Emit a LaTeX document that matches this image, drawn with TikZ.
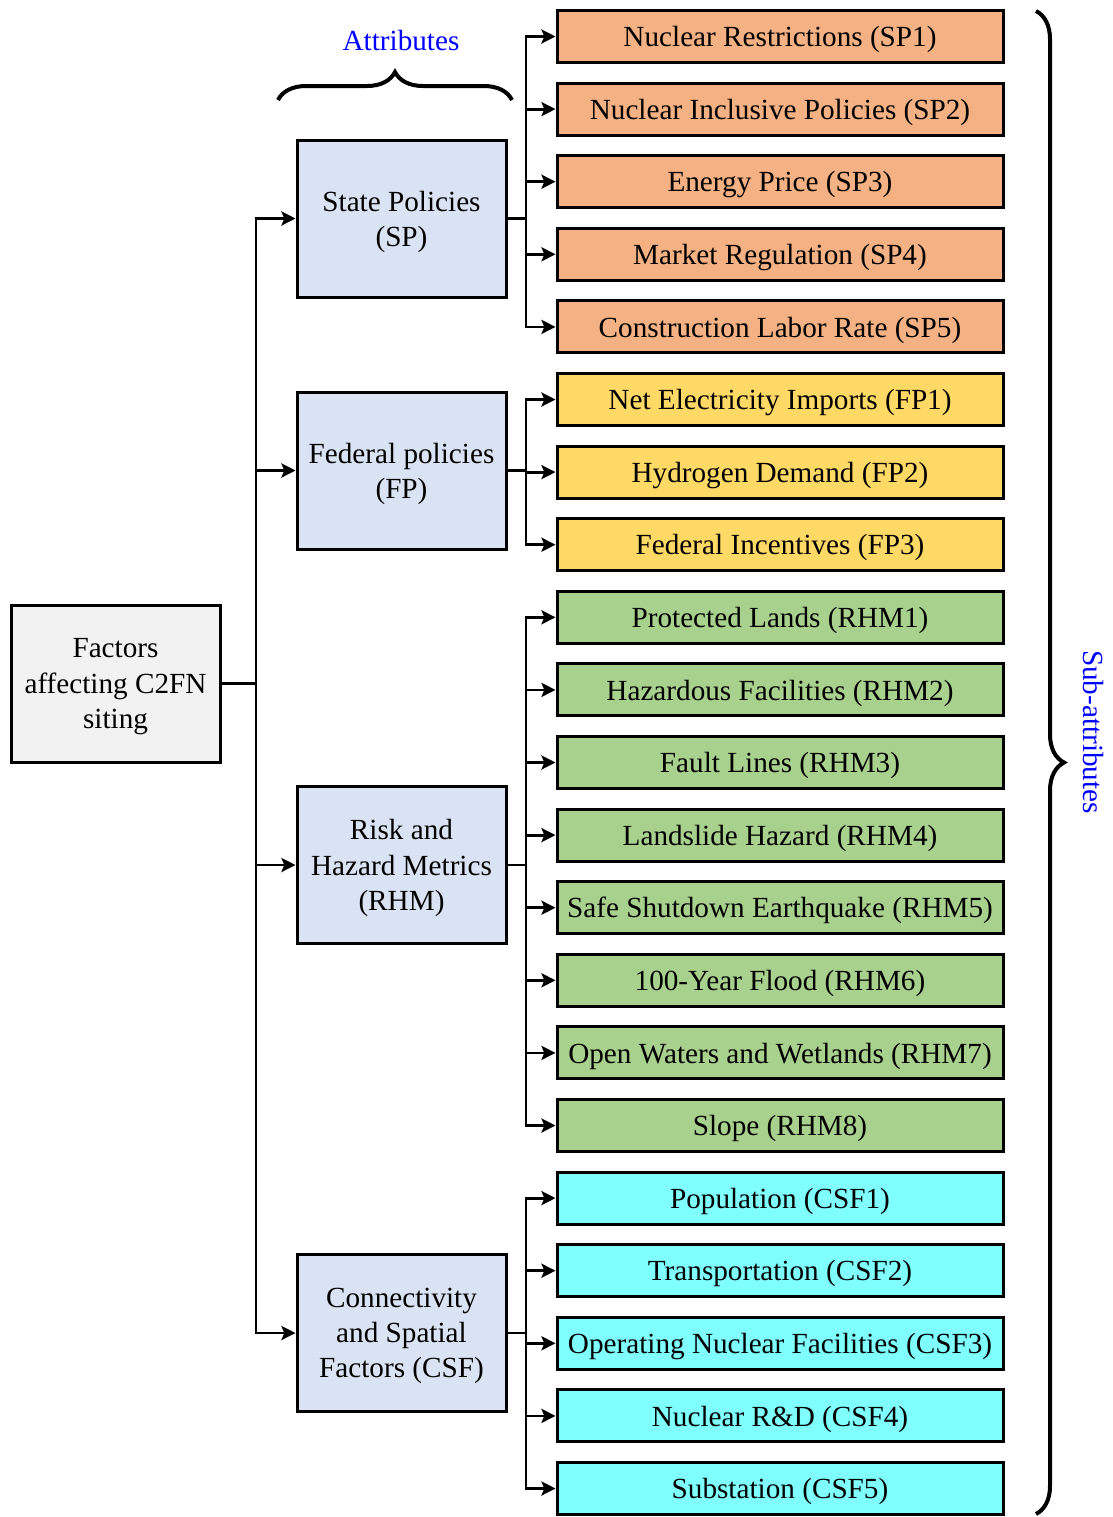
\documentclass[tikz,border=0pt]{standalone}
\usepackage{fontspec}
\setmainfont{Liberation Serif}
\usetikzlibrary{arrows.meta,decorations.pathreplacing}
\definecolor{cSP}{HTML}{F4B183}
\definecolor{cFP}{HTML}{FFD966}
\definecolor{cRHM}{HTML}{A9D18E}
\definecolor{cCSF}{HTML}{80FFFF}
\definecolor{cAttr}{HTML}{DAE3F3}
\definecolor{cRoot}{HTML}{F2F2F2}
\definecolor{cLabel}{HTML}{0000FF}
\tikzset{
  box/.style={draw=black,line width=1.5pt,inner sep=0pt,align=center,text depth=0pt,font=\fontsize{14.6}{17.6}\selectfont},
  subbox/.style={box,minimum width=223pt,minimum height=26pt},
  attrbox/.style={box,minimum width=104.5pt,minimum height=78.5pt,fill=cAttr},
  conn/.style={line width=1.4pt},
  arr/.style={conn,-{Stealth[length=7pt,width=7pt,inset=1.4pt]}},
  bracestyle/.style={line width=2pt,decorate,decoration={brace,amplitude=14pt}},
  lbl/.style={text=cLabel,font=\fontsize{14.6}{17}\selectfont}
}
\begin{document}
\begin{tikzpicture}[x=0.5pt,y=-0.5pt]
\useasboundingbox (0,0) rectangle (1113,1517);
% root
\node[box,fill=cRoot,minimum width=104.5pt,minimum height=78.5pt] (root) at (115.5,683.5) {Factors\\affecting C2FN\\siting};
% attributes
\node[attrbox] (SP) at (401.5,218.5) {State Policies\\(SP)};
\node[attrbox] (FP) at (401.5,470.5) {Federal policies\\(FP)};
\node[attrbox] (RHM) at (401.5,865) {Risk and\\Hazard Metrics\\(RHM)};
\node[attrbox] (CSF) at (401.5,1333) {Connectivity\\and Spatial\\Factors (CSF)};
% sub-attributes
\foreach \i/\t/\c [count=\k from 0] in {
 SP1/Nuclear Restrictions (SP1)/cSP,
 SP2/Nuclear Inclusive Policies (SP2)/cSP,
 SP3/Energy Price (SP3)/cSP,
 SP4/Market Regulation (SP4)/cSP,
 SP5/Construction Labor Rate (SP5)/cSP,
 FP1/Net Electricity Imports (FP1)/cFP,
 FP2/Hydrogen Demand (FP2)/cFP,
 FP3/Federal Incentives (FP3)/cFP,
 RHM1/Protected Lands (RHM1)/cRHM,
 RHM2/Hazardous Facilities (RHM2)/cRHM,
 RHM3/Fault Lines (RHM3)/cRHM,
 RHM4/Landslide Hazard (RHM4)/cRHM,
 RHM5/Safe Shutdown Earthquake (RHM5)/cRHM,
 RHM6/100-Year Flood (RHM6)/cRHM,
 RHM7/Open Waters and Wetlands (RHM7)/cRHM,
 RHM8/Slope (RHM8)/cRHM,
 CSF1/Population (CSF1)/cCSF,
 CSF2/Transportation (CSF2)/cCSF,
 CSF3/Operating Nuclear Facilities (CSF3)/cCSF,
 CSF4/Nuclear R\&D (CSF4)/cCSF,
 CSF5/Substation (CSF5)/cCSF}
 {\node[subbox,fill=\c] (\i) at (780,36.5+72.6*\k) {\t};}
% root connections
\coordinate (rj) at (256,683.5);
\draw[conn] (root.east) -- (rj);
\foreach \a in {SP,FP,RHM,CSF} {\draw[arr] (rj) |- (\a.west);}
% attribute junctions
\coordinate (spj) at (526,218.5);
\coordinate (fpj) at (526,470.5);
\coordinate (rhmj) at (526,865);
\coordinate (csfj) at (526,1333);
\draw[conn] (SP.east) -- (spj);
\draw[conn] (FP.east) -- (fpj);
\draw[conn] (RHM.east) -- (rhmj);
\draw[conn] (CSF.east) -- (csfj);
\foreach \s in {SP1,SP2,SP3,SP4,SP5} {\draw[arr] (spj) |- (\s.west);}
\foreach \s in {FP1,FP2,FP3} {\draw[arr] (fpj) |- (\s.west);}
\foreach \s in {RHM1,RHM2,RHM3,RHM4,RHM5,RHM6,RHM7,RHM8} {\draw[arr] (rhmj) |- (\s.west);}
\foreach \s in {CSF1,CSF2,CSF3,CSF4,CSF5} {\draw[arr] (csfj) |- (\s.west);}
% braces
\coordinate (tb1) at (278,100);
\coordinate (tb2) at (512,100);
\draw[bracestyle] (tb1) -- (tb2);
\node[lbl] (attrlbl) at (401,41) {Attributes};
\coordinate (rb1) at (1036,11);
\coordinate (rb2) at (1036,1514);
\draw[bracestyle] (rb1) -- (rb2);
\node[lbl,rotate=-90] (sublbl) at (1093,732) {Sub-attributes};
\end{tikzpicture}
\end{document}
